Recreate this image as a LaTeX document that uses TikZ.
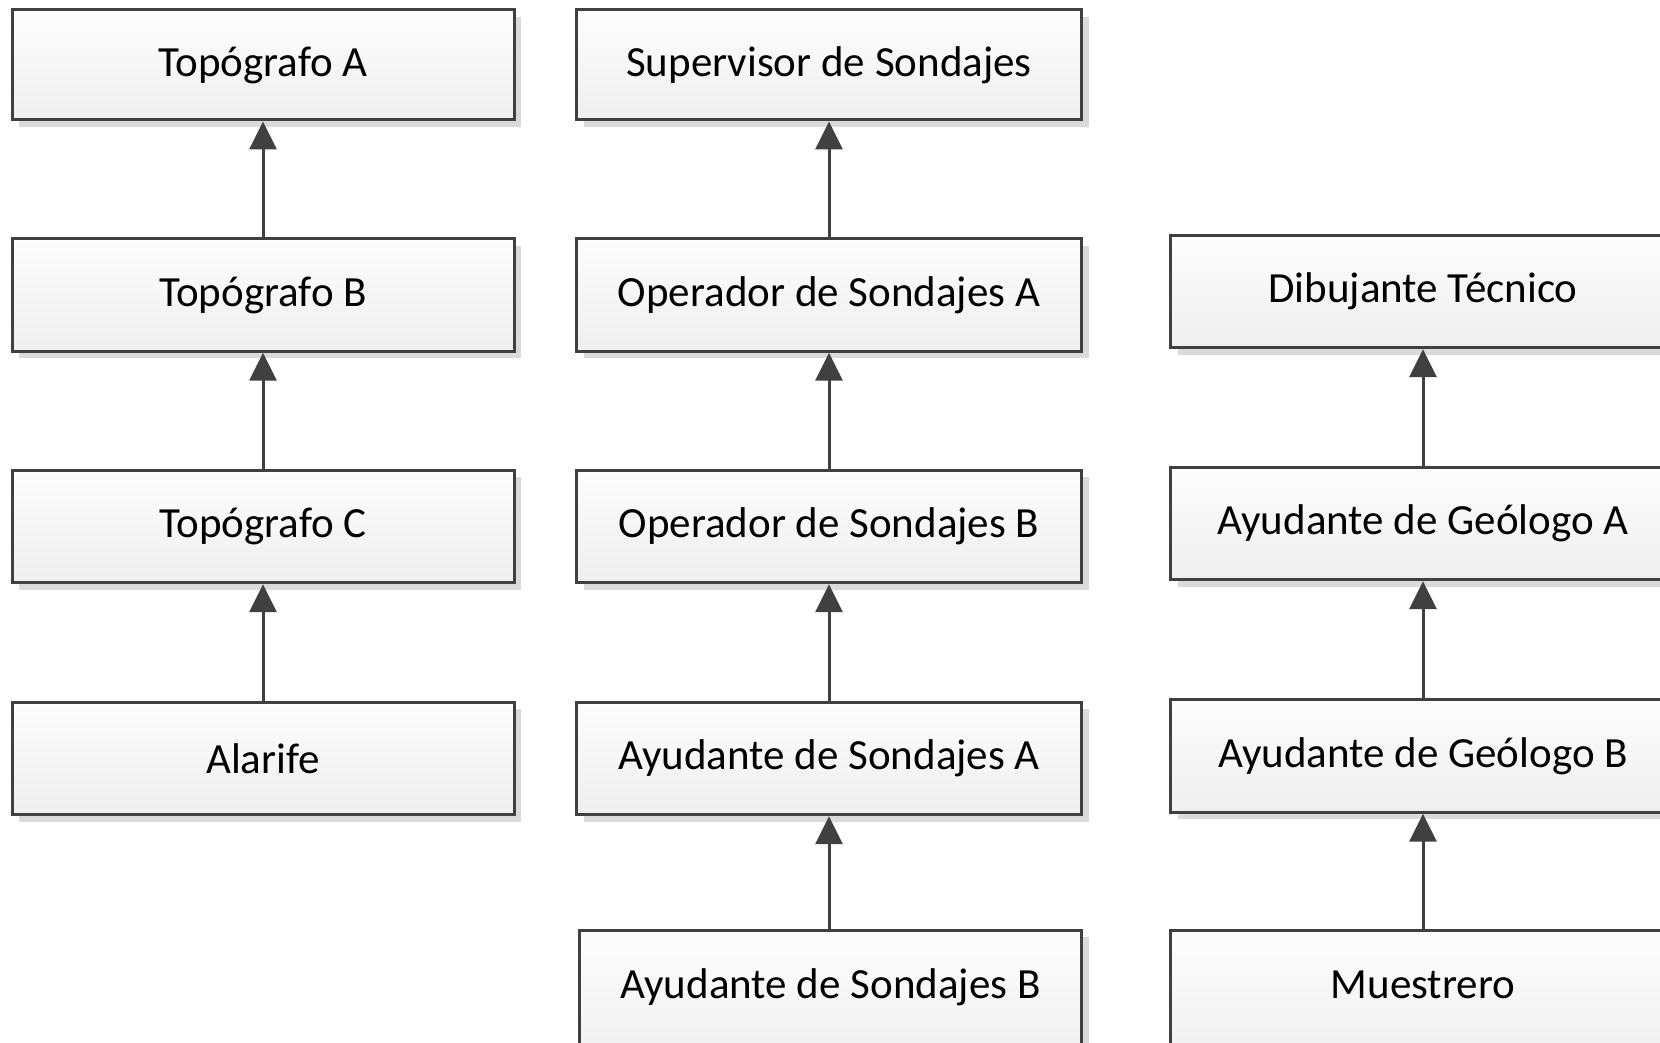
\documentclass[tikz,border=0pt]{standalone}
\usepackage{fontspec}
\setmainfont{Carlito}
\usetikzlibrary{arrows.meta,shadows}
\definecolor{edgegray}{HTML}{404040}
\definecolor{shadowgray}{HTML}{DADADA}
\definecolor{topfill}{HTML}{FDFDFD}
\definecolor{botfill}{HTML}{EFEFEF}
\begin{document}
\begin{tikzpicture}[x=1pt,y=1pt,
  role/.style={draw=edgegray, line width=3pt, top color=topfill, bottom color=botfill,
    minimum width=502pt, minimum height=112.5pt, inner sep=0pt,
    font=\fontsize{43}{50}\selectfont, text=black,
    drop shadow={shadow xshift=7pt, shadow yshift=-7pt, fill=shadowgray, opacity=1}},
  wide/.style={minimum width=505pt},
  lastrow/.style={anchor=north, minimum height=0pt, text height=68pt, text depth=74pt},
  link/.style={draw=edgegray, line width=3pt, -{Triangle[length=28pt,width=27pt]}}]
\useasboundingbox (0,0) rectangle (1660,1043);
\clip (0,0) rectangle (1660,1043);
% column 1
\node[role, minimum height=110pt] (tA) at (263,978) {Topógrafo A};
\node[role] (tB) at (263,748) {Topógrafo B};
\node[role] (tC) at (263,516.5) {Topógrafo C};
\node[role] (al) at (263,284.5) {Alarife};
% column 2
\node[role, wide, minimum height=110pt] (sup) at (829,978) {Supervisor de Sondajes};
\node[role, wide] (opA) at (829,748) {Operador de Sondajes A};
\node[role, wide] (opB) at (829,516.5) {Operador de Sondajes B};
\node[role, wide] (aySA) at (829,284.5) {Ayudante de Sondajes A};
\node[role, lastrow] (aySB) at (830.5,114) {Ayudante de Sondajes B};
% column 3
\node[role, wide] (dib) at (1423,751.5) {Dibujante Técnico};
\node[role, wide] (agA) at (1423,519.5) {Ayudante de Geólogo A};
\node[role, wide] (agB) at (1423,287) {Ayudante de Geólogo B};
\node[role, wide, lastrow] (mue) at (1423,114) {Muestrero};
% connectors
\draw[link] (tB.north) -- (tA.south);
\draw[link] (tC.north) -- (tB.south);
\draw[link] (al.north) -- (tC.south);
\draw[link] (opA.north) -- (sup.south);
\draw[link] (opB.north) -- (opA.south);
\draw[link] (aySA.north) -- (opB.south);
\draw[link] (aySB.north -| aySA.south) -- (aySA.south);
\draw[link] (agA.north) -- (dib.south);
\draw[link] (agB.north) -- (agA.south);
\draw[link] (mue.north) -- (agB.south);
\end{tikzpicture}
\end{document}
